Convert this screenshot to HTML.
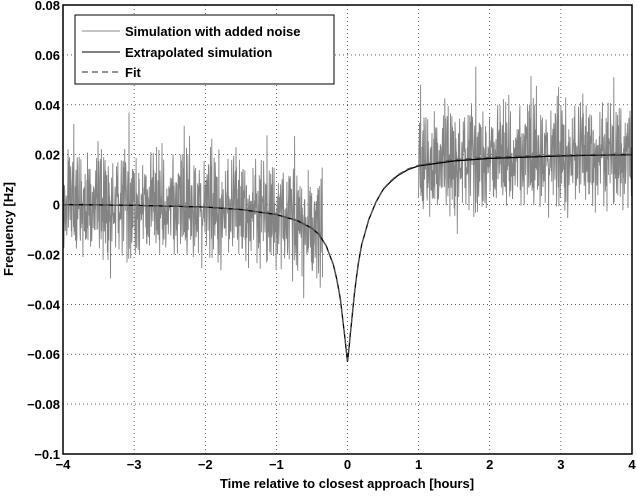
<!DOCTYPE html>
<html><head><meta charset="utf-8"><style>
body{margin:0;background:#fff;}
svg text{font-family:"Liberation Sans",Arial,sans-serif;font-weight:bold;font-size:13px;fill:#000;}
</style></head><body>
<svg id="chart" width="637" height="493" xmlns="http://www.w3.org/2000/svg">
<g id="grid"></g>
<g id="plot"></g>
<rect x="63" y="5" width="569" height="449" fill="none" stroke="#000" stroke-width="1.5"/>
<g id="ticks"></g>
<text x="347" y="488" text-anchor="middle" font-size="14">Time relative to closest approach [hours]</text>
<text transform="translate(13,229) rotate(-90)" text-anchor="middle" font-size="14">Frequency [Hz]</text>
<g>
<rect x="75" y="15" width="259" height="69" fill="#fff" stroke="#000" stroke-width="1"/>
<line x1="82" y1="31" x2="120" y2="31" stroke="#888" stroke-width="1"/>
<text x="125" y="36" font-size="14">Simulation with added noise</text>
<line x1="82" y1="52" x2="120" y2="52" stroke="#000" stroke-width="1"/>
<text x="125" y="57" font-size="14">Extrapolated simulation</text>
<line x1="82" y1="72" x2="120" y2="72" stroke="#555" stroke-width="1.3" stroke-dasharray="6,4"/>
<text x="125" y="77" font-size="14">Fit</text>
</g>
</svg>
<script>
const xTicks=[-4,-3,-2,-1,0,1,2,3,4];
const yTicks=[0.08,0.06,0.04,0.02,0,-0.02,-0.04,-0.06,-0.08,-0.1];
const yTickLabels=["0.08","0.06","0.04","0.02","0","\u22120.02","\u22120.04","\u22120.06","\u22120.08","\u22120.1"];
const xTickLabels=["\u22124","\u22123","\u22122","\u22121","0","1","2","3","4"];
const curveT=[-4,-3,-2,-1.5,-1,-0.7,-0.5,-0.4,-0.3,-0.2,-0.15,-0.1,-0.05,-0.02,0,0.02,0.05,0.1,0.15,0.2,0.3,0.4,0.5,0.6,0.7,0.85,1,1.5,2,2.5,3,3.5,4];
const curveF=[0,-0.0003,-0.001,-0.002,-0.004,-0.0065,-0.0095,-0.012,-0.0165,-0.024,-0.03,-0.038,-0.05,-0.058,-0.063,-0.058,-0.049,-0.035,-0.024,-0.016,-0.006,0.001,0.006,0.009,0.0115,0.014,0.0155,0.0175,0.0185,0.019,0.0195,0.0198,0.020];
const fitF=[0,-0.0003,-0.001,-0.002,-0.004,-0.0065,-0.0095,-0.012,-0.0165,-0.024,-0.03,-0.038,-0.05,-0.058,-0.0625,-0.058,-0.049,-0.035,-0.024,-0.016,-0.006,0.001,0.0062,0.0093,0.0118,0.0143,0.0158,0.018,0.019,0.0195,0.0198,0.02,0.0202];
const noise=[0.004,-0.012,0.018,-0.003,0.009,-0.02,0.006,0.013,-0.008,0.001,-0.015,0.022,-0.005,0.011,-0.01,0.003,0.016,-0.018,0.007,-0.002,0.012,-0.009,0.028,-0.006,0.002,-0.013,0.008,0.014,-0.021,0.005,-0.001,0.01,-0.016,0.019,-0.004,0.006,-0.011,0.015,-0.007,0.0,-0.025,0.009,0.013,-0.003,0.017,-0.012,0.004,-0.008,0.021,-0.014,0.007,0.002,-0.019,0.011,-0.006,0.024,-0.01,0.003,-0.002,0.012,-0.017,0.008,0.015,-0.005,0.001,-0.022,0.01,0.006,-0.009,0.018,-0.013,0.004,0.032,-0.007,0.009,-0.015,0.002,0.011,-0.004,-0.028,0.014,0.005,-0.011,0.008,-0.001,0.019,-0.016,0.003,0.013,-0.008,0.006,-0.003,0.016,-0.012,0.01,0.001,-0.006];
const noiseRanges=[[-4,-0.35],[1.0,4]];
const X0=63,X1=632,Y0=5,Y1=454;
const sx=t=>X0+(t+4)/8*(X1-X0);
const sy=f=>Y0+(0.08-f)/0.18*(Y1-Y0);
const NS="http://www.w3.org/2000/svg";
function interp(T,F,t){for(let i=0;i<T.length-1;i++){if(t<=T[i+1]){const a=(t-T[i])/(T[i+1]-T[i]);return F[i]+a*(F[i+1]-F[i]);}}return F[F.length-1];}
const grid=document.getElementById('grid'),plot=document.getElementById('plot'),ticks=document.getElementById('ticks');
xTicks.forEach((t,i)=>{
 const g=document.createElementNS(NS,'line');
 
 
 g.setAttribute('x1',sx(t));g.setAttribute('x2',sx(t));g.setAttribute('y1',Y0);g.setAttribute('y2',Y1);
 g.setAttribute('stroke','#000');g.setAttribute('stroke-width','0.6');g.setAttribute('stroke-dasharray','1,3');
 grid.appendChild(g);
 const tx=document.createElementNS(NS,'text');
 
 
 tx.setAttribute('x',sx(t));tx.setAttribute('y',Y1+15);tx.setAttribute('text-anchor','middle');
 tx.textContent=xTickLabels[i];ticks.appendChild(tx);
});
yTicks.forEach((f,i)=>{
 const g=document.createElementNS(NS,'line');
 
 
 g.setAttribute('x1',X0);g.setAttribute('x2',X1);g.setAttribute('y1',sy(f));g.setAttribute('y2',sy(f));
 g.setAttribute('stroke','#000');g.setAttribute('stroke-width','0.6');g.setAttribute('stroke-dasharray','1,3');
 grid.appendChild(g);
 const tx=document.createElementNS(NS,'text');
 
 
 tx.setAttribute('x',X0-3);tx.setAttribute('y',sy(f)+5);tx.setAttribute('text-anchor','end');
 tx.textContent=yTickLabels[i];ticks.appendChild(tx);
});
noiseRanges.forEach((r,ri)=>{
 let d='',k=ri*31;
 const n=noise.length;
 for(let t=r[0];t<=r[1]+1e-9;t+=0.004){
  const a=noise[(k*7)%n], b=noise[(k*k*3+k*11+5)%n], c=noise[(Math.floor(k/n)*17+k*29)%n];
  const v=interp(curveT,curveF,t)+(a*0.6+b*0.6+c*0.4);k++;
  d+=(d?'L':'M')+sx(t).toFixed(1)+','+sy(v).toFixed(1);
 }
 const p=document.createElementNS(NS,'path');
 
 
 p.setAttribute('d',d);p.setAttribute('fill','none');p.setAttribute('stroke','#838383');p.setAttribute('stroke-width','0.9');
 plot.appendChild(p);
});
function drawCurve(F,name,color,dash,w){
 let d='';
 for(let t=-4;t<=4.0001;t+=0.01){d+=(d?'L':'M')+sx(t).toFixed(1)+','+sy(interp(curveT,F,t)).toFixed(1);}
 const p=document.createElementNS(NS,'path');
 
 
 p.setAttribute('d',d);p.setAttribute('fill','none');p.setAttribute('stroke',color);p.setAttribute('stroke-width',w);
 if(dash)p.setAttribute('stroke-dasharray',dash);
 plot.appendChild(p);
}
drawCurve(curveF,'extrapolated-simulation-series','#000',null,1.3);
drawCurve(fitF,'fit-series','#555','6,4',1.2);
</script>
</body></html>
